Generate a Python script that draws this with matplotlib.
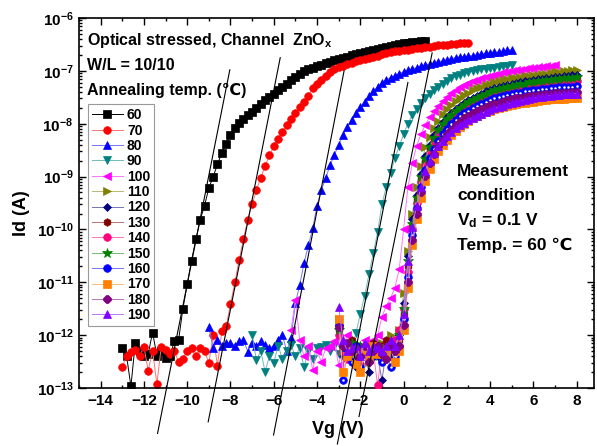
import numpy as np
import matplotlib as mpl
mpl.use('Agg')
from matplotlib import pyplot as plt
from matplotlib.ticker import MultipleLocator, LogLocator, NullFormatter

plt.rcParams['font.family'] = ['Liberation Sans', 'DejaVu Sans']
plt.rcParams['font.weight'] = 'bold'
plt.rcParams['mathtext.fontset'] = 'custom'
plt.rcParams['mathtext.bf'] = 'Liberation Sans:bold'
plt.rcParams['mathtext.rm'] = 'Liberation Sans:bold'
plt.rcParams['mathtext.it'] = 'Liberation Sans:bold'
plt.rcParams['mathtext.default'] = 'bf'

# annealing temperatures (legend labels)
temps = [60, 70, 80, 90, 100, 110, 120, 130, 140, 150, 160, 170, 180, 190]

# first Vg of each sweep, sweep step is 0.2 V
vg_start = [-13.0, -13.0, -9.0, -7.0, -5.2, -3.0, -3.0, -3.0, -3.0, -3.0, -3.0, -3.0, -3.0, -3.0]
vg_step = 0.2

# log10(Id)
logid_60 = [-12.24, -12.40, -12.97, -12.14, -12.30,
            -12.39, -12.35, -11.95, -12.39, -12.30,
            -12.43, -12.40, -12.12, -12.10, -11.50,
            -11.04, -10.59, -10.19, -9.82, -9.55,
            -9.22, -9.00, -8.77, -8.55, -8.38,
            -8.22, -8.08, -7.99, -7.91, -7.84,
            -7.77, -7.70, -7.63, -7.56, -7.49,
            -7.43, -7.36, -7.30, -7.24, -7.18,
            -7.12, -7.06, -7.01, -6.97, -6.94,
            -6.91, -6.88, -6.85, -6.83, -6.80,
            -6.77, -6.75, -6.73, -6.70, -6.68,
            -6.66, -6.64, -6.62, -6.60, -6.58,
            -6.56, -6.54, -6.53, -6.51, -6.50,
            -6.48, -6.47, -6.46, -6.45, -6.44,
            -6.43]
logid_70 = [-12.61, -12.39, -12.31, -12.28, -12.40,
            -12.22, -12.67, -12.30, -12.92, -12.22,
            -12.28, -12.35, -12.30, -12.50, -12.45,
            -12.30, -12.24, -12.40, -12.25, -12.30,
            -12.53, -12.00, -12.58, -11.92, -11.83,
            -11.42, -11.00, -10.58, -10.18, -9.82,
            -9.52, -9.26, -9.02, -8.80, -8.60,
            -8.43, -8.29, -8.16, -8.03, -7.91,
            -7.79, -7.68, -7.58, -7.48, -7.33,
            -7.25, -7.17, -7.09, -7.02, -6.97,
            -6.93, -6.90, -6.87, -6.85, -6.82,
            -6.79, -6.77, -6.75, -6.73, -6.71,
            -6.69, -6.67, -6.65, -6.63, -6.62,
            -6.61, -6.60, -6.58, -6.57, -6.56,
            -6.55, -6.54, -6.53, -6.52, -6.51,
            -6.51, -6.50, -6.49, -6.48, -6.48,
            -6.47]
logid_80 = [-11.84, -12.25, -12.09, -12.20, -12.15,
            -12.14, -12.20, -12.12, -12.09, -12.31,
            -12.15, -12.20, -12.12, -12.19, -12.25,
            -12.20, -12.10, -12.00, -12.30, -12.06,
            -11.40, -11.05, -10.64, -10.30, -9.98,
            -9.55, -9.26, -9.03, -8.79, -8.59,
            -8.40, -8.22, -8.06, -7.93, -7.79,
            -7.68, -7.58, -7.48, -7.38, -7.30,
            -7.23, -7.17, -7.13, -7.09, -7.05,
            -7.02, -6.99, -6.96, -6.94, -6.91,
            -6.89, -6.87, -6.85, -6.83, -6.81,
            -6.79, -6.77, -6.75, -6.74, -6.73,
            -6.72, -6.71, -6.70, -6.68, -6.67,
            -6.66, -6.65, -6.64, -6.63, -6.61,
            -6.60]
logid_90 = [-12.00, -12.47, -12.30, -12.69, -12.40,
            -12.53, -12.20, -12.45, -12.30, -12.19,
            -12.40, -12.25, -12.60, -12.30, -12.45,
            -12.25, -12.22, -12.19, -12.30, -12.20,
            -12.35, -12.25, -12.20, -12.30, -11.96,
            -11.60, -11.25, -10.85, -10.45, -10.05,
            -9.52, -9.20, -8.94, -8.65, -8.42,
            -8.20, -8.00, -7.83, -7.72, -7.61,
            -7.52, -7.44, -7.37, -7.30, -7.24,
            -7.19, -7.14, -7.10, -7.07, -7.04,
            -7.02, -7.00, -6.99, -6.97, -6.96,
            -6.95, -6.94, -6.93, -6.91, -6.90,
            -6.89]
logid_100 = [-11.90, -11.33, -12.10, -12.40, -12.20,
             -12.66, -12.30, -12.50, -12.25, -12.20,
             -12.12, -12.56, -12.20, -12.00, -12.30,
             -12.40, -12.25, -12.10, -12.20, -12.09,
             -12.00, -11.65, -11.45, -11.30, -11.10,
             -10.75, -10.00, -9.20, -8.75, -8.42,
             -8.20, -8.02, -7.88, -7.76, -7.66,
             -7.57, -7.49, -7.42, -7.36, -7.31,
             -7.27, -7.23, -7.20, -7.17, -7.14,
             -7.11, -7.09, -7.07, -7.05, -7.03,
             -7.02, -7.00, -6.99, -6.98, -6.96,
             -6.95, -6.94, -6.93, -6.92, -6.91,
             -6.90, -6.89]
logid_110 = [-11.70, -12.30, -12.20, -12.40, -12.15,
             -12.30, -12.25, -12.50, -12.20, -12.30,
             -12.15, -12.20, -12.00,
             -12.20, -11.90, -11.20, -10.40, -9.70,
             -9.20, -8.80, -8.45, -8.25, -8.08,
             -7.94, -7.82, -7.72, -7.64, -7.57,
             -7.51, -7.46, -7.41, -7.37, -7.33,
             -7.30, -7.27, -7.24, -7.22, -7.20,
             -7.18, -7.16, -7.14, -7.13, -7.11,
             -7.10, -7.09, -7.08, -7.07, -7.06,
             -7.05, -7.04, -7.03, -7.02, -7.01,
             -7.00, -6.99, -6.98]
logid_120 = [-11.80, -12.40, -12.20, -12.30, -12.60,
             -12.20, -12.35, -12.70, -12.25, -12.40,
             -12.85, -12.30, -12.40,
             -12.30, -12.00, -11.40, -10.50, -9.80,
             -9.35, -8.95, -8.62, -8.40, -8.22,
             -8.08, -7.96, -7.87, -7.79, -7.72,
             -7.66, -7.60, -7.55, -7.51, -7.47,
             -7.43, -7.39, -7.36, -7.33, -7.31,
             -7.29, -7.27, -7.25, -7.23, -7.22,
             -7.20, -7.19, -7.17, -7.16, -7.15,
             -7.14, -7.13, -7.12, -7.11, -7.10,
             -7.09, -7.08, -7.07]
logid_130 = [-11.90, -12.20, -12.30, -12.10, -12.40,
             -12.25, -12.20, -12.35, -12.15, -12.30,
             -12.20, -12.10, -12.25,
             -12.20, -12.10, -11.60, -10.70, -9.95,
             -9.45, -9.05, -8.72, -8.50, -8.32,
             -8.17, -8.05, -7.95, -7.87, -7.80,
             -7.73, -7.67, -7.62, -7.58, -7.54,
             -7.50, -7.46, -7.43, -7.40, -7.38,
             -7.36, -7.34, -7.32, -7.30, -7.28,
             -7.27, -7.25, -7.24, -7.23, -7.22,
             -7.21, -7.20, -7.19, -7.18, -7.17,
             -7.16, -7.15, -7.15]
logid_140 = [-12.00, -12.30, -12.45, -12.20, -12.30,
             -12.55, -12.20, -12.40, -12.30, -12.95,
             -12.25, -12.30, -12.20,
             -12.10, -11.90, -11.50, -10.80, -10.00,
             -9.50, -9.10, -8.78, -8.55, -8.37,
             -8.22, -8.10, -8.00, -7.91, -7.84,
             -7.77, -7.71, -7.66, -7.61, -7.57,
             -7.53, -7.49, -7.46, -7.43, -7.41,
             -7.39, -7.37, -7.35, -7.33, -7.31,
             -7.30, -7.28, -7.27, -7.26, -7.25,
             -7.24, -7.23, -7.22, -7.21, -7.21,
             -7.20, -7.20, -7.19]
logid_150 = [-11.90, -12.25, -12.30, -12.15, -12.35,
             -12.20, -12.30, -12.25, -12.40, -12.20,
             -12.30, -12.25, -12.30,
             -12.25, -12.00, -11.50, -10.60, -9.90,
             -9.40, -9.00, -8.67, -8.45, -8.27,
             -8.12, -8.00, -7.91, -7.83, -7.76,
             -7.70, -7.64, -7.59, -7.55, -7.51,
             -7.47, -7.43, -7.40, -7.37, -7.35,
             -7.33, -7.31, -7.29, -7.27, -7.25,
             -7.24, -7.22, -7.21, -7.20, -7.19,
             -7.18, -7.17, -7.16, -7.15, -7.14,
             -7.13, -7.13, -7.12]
logid_160 = [-11.80, -12.85, -12.30, -12.50, -12.20,
             -12.60, -12.35, -12.30, -12.40, -12.25,
             -12.50, -12.35, -12.60,
             -12.40, -12.20, -11.70, -10.90, -10.10,
             -9.60, -9.20, -8.88, -8.65, -8.47,
             -8.32, -8.20, -8.10, -8.01, -7.93,
             -7.86, -7.80, -7.75, -7.70, -7.66,
             -7.62, -7.58, -7.55, -7.52, -7.50,
             -7.48, -7.46, -7.44, -7.42, -7.41,
             -7.39, -7.38, -7.37, -7.36, -7.35,
             -7.34, -7.33, -7.32, -7.31, -7.31,
             -7.30, -7.30, -7.29]
logid_170 = [-11.70, -12.69, -12.40, -12.30, -12.55,
             -12.70, -12.30, -12.45, -12.20, -12.35,
             -12.30, -12.40, -12.25,
             -12.50, -12.30, -11.90, -11.10, -10.30,
             -9.80, -9.40, -9.08, -8.85, -8.67,
             -8.52, -8.40, -8.30, -8.21, -8.13,
             -8.06, -8.00, -7.95, -7.90, -7.86,
             -7.82, -7.78, -7.75, -7.72, -7.70,
             -7.68, -7.66, -7.64, -7.63, -7.61,
             -7.60, -7.59, -7.58, -7.57, -7.56,
             -7.55, -7.54, -7.54, -7.53, -7.53,
             -7.52, -7.52, -7.51]
logid_180 = [-11.85, -12.20, -12.15, -12.30, -12.25,
             -12.40, -12.20, -12.50, -12.30, -12.20,
             -12.35, -12.45, -12.20,
             -12.30, -12.20, -11.80, -11.00, -10.20,
             -9.70, -9.30, -8.98, -8.75, -8.57,
             -8.42, -8.30, -8.20, -8.11, -8.03,
             -7.96, -7.90, -7.85, -7.80, -7.76,
             -7.72, -7.68, -7.65, -7.62, -7.60,
             -7.58, -7.56, -7.54, -7.52, -7.51,
             -7.49, -7.48, -7.47, -7.46, -7.45,
             -7.44, -7.43, -7.42, -7.42, -7.41,
             -7.41, -7.40, -7.40]
logid_190 = [-11.46, -12.10, -12.30, -12.25, -12.20,
             -12.40, -12.15, -12.30, -12.20, -12.25,
             -12.30, -12.20, -12.10,
             -12.20, -12.00, -11.60, -10.60, -9.95,
             -9.55, -9.20, -8.90, -8.70, -8.55,
             -8.42, -8.32, -8.24, -8.16, -8.09,
             -8.03, -7.98, -7.93, -7.89, -7.85,
             -7.81, -7.77, -7.74, -7.71, -7.68,
             -7.66, -7.63, -7.61, -7.59, -7.57,
             -7.55, -7.53, -7.51, -7.50, -7.49,
             -7.48, -7.47, -7.46, -7.45, -7.44,
             -7.44, -7.43, -7.43]

logid_all = [logid_60, logid_70, logid_80, logid_90, logid_100, logid_110, logid_120,
             logid_130, logid_140, logid_150, logid_160, logid_170, logid_180, logid_190]

colors = ['#000000', '#ff0000', '#0000ff', '#008080', '#ff00ff', '#808000', '#000080',
          '#800000', '#ff0080', '#008000', '#0000ff', '#ff8000', '#800080', '#8000ff']
markers = ['s', 'o', '^', 'v', '<', '>', 'D', 'h', 'o', '*', 'o', 's', '8', '^']

# subthreshold fit lines: end points (Vg, log10 Id)
fit_vg = [(-11.37, -8.03), (-9.03, -5.70), (-6.01, -2.75), (-3.06, 0.20), (-2.06, 1.32)]
fit_logid = [(-13.86, -6.98), (-13.64, -6.75), (-13.89, -7.00), (-14.06, -7.22), (-13.54, -6.66)]


def lighter(c, amount=0.45):
    rgb = np.array(mpl.colors.to_rgb(c))
    return tuple(rgb + (1 - rgb) * amount)


W, H = 597, 446
fig = plt.figure(figsize=(W / 100, H / 100), dpi=100)
ax = fig.add_axes([79 / W, 1 - 388 / H, (594 - 79) / W, (388 - 18) / H])

for i in range(len(temps)):
    vals = np.array(logid_all[i])
    vg = np.round(vg_start[i] + vg_step * np.arange(len(vals)), 2)
    ms = 4.5 if markers[i] == 'D' else 5.5
    if markers[i] == '*':
        ms = 7
    line_col = colors[i] if temps[i] == 60 else lighter(colors[i])
    ax.plot(vg, 10.0 ** vals, color=line_col, marker=markers[i], ms=ms, lw=0.7,
            mfc=colors[i], mec=colors[i], mew=0.5, label=str(temps[i]),
            zorder=2 + i * 0.1)
    if temps[i] == 160:
        ax.plot(vg, 10.0 ** vals, ls='none', marker='o', ms=1.8, color='white',
                mew=0, zorder=2 + i * 0.1 + 0.05)

for (v0, v1), (l0, l1) in zip(fit_vg, fit_logid):
    ax.plot([v0, v1], [10.0 ** l0, 10.0 ** l1], color='black', lw=0.8,
            clip_on=False, zorder=5)

ax.set_yscale('log')
ax.set_xlim(-15, 8.8)
ax.set_ylim(1e-13, 1e-6)
ax.set_xticks(np.arange(-14, 9, 2))
ax.xaxis.set_minor_locator(MultipleLocator(1))
ax.yaxis.set_major_locator(LogLocator(base=10, numticks=10))
ax.yaxis.set_minor_locator(LogLocator(base=10, subs=np.arange(2, 10), numticks=20))
ax.yaxis.set_minor_formatter(NullFormatter())
ax.tick_params(which='both', direction='in', top=True, right=True, width=1)
ax.tick_params(which='major', length=5, labelsize=11, pad=4)
ax.tick_params(which='minor', length=2.5)
for lab in ax.get_xticklabels():
    lab.set_fontweight('bold')
for sp in ax.spines.values():
    sp.set_linewidth(1.2)

fig.text(22 / W, 1 - 213 / H, 'Id (A)', rotation=90, ha='center', va='center',
         fontsize=13, fontweight='bold')
fig.text(338 / W, 1 - 430 / H, 'Vg (V)', ha='center', va='center',
         fontsize=13, fontweight='bold')

fig.text(87 / W, 1 - 40 / H, 'Optical stressed, Channel  ZnO$_x$', ha='left', va='center',
         fontsize=11.5, fontweight='bold')
fig.text(87 / W, 1 - 65 / H, 'W/L = 10/10', ha='left', va='center',
         fontsize=11.5, fontweight='bold')
fig.text(87 / W, 1 - 90 / H, 'Annealing temp. (\u2103)', ha='left', va='center',
         fontsize=11.5, fontweight='bold')

fig.text(457 / W, 1 - 171 / H, 'Measurement', ha='left', va='center',
         fontsize=12.5, fontweight='bold')
fig.text(457 / W, 1 - 196 / H, 'condition', ha='left', va='center',
         fontsize=12.5, fontweight='bold')
fig.text(457 / W, 1 - 221 / H, 'V$_d$ = 0.1 V', ha='left', va='center',
         fontsize=12.5, fontweight='bold')
fig.text(457 / W, 1 - 245 / H, 'Temp. = 60 \u2103', ha='left', va='center',
         fontsize=12.5, fontweight='bold')

leg = ax.legend(loc='upper left', bbox_to_anchor=(88 / W, 1 - 104 / H),
                bbox_transform=fig.transFigure, borderaxespad=0, fontsize=10,
                handlelength=2.2, handletextpad=0.3, labelspacing=0.1,
                borderpad=0.3, fancybox=False, framealpha=1)
leg.get_frame().set_edgecolor('#999999')
leg.get_frame().set_linewidth(0.8)
for t in leg.get_texts():
    t.set_fontweight('bold')

fig.savefig('out.png', dpi=100)
